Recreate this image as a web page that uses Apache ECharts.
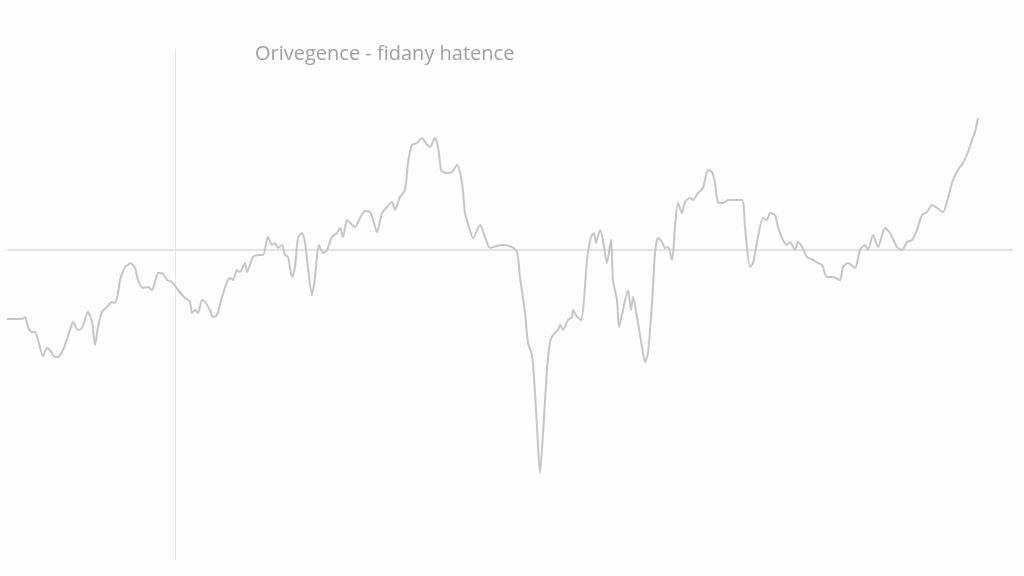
<!DOCTYPE html>
<html>
<head>
<meta charset="utf-8">
<script src="https://cdn.jsdelivr.net/npm/echarts@6/dist/echarts.min.js"></script>
<style>
html,body{margin:0;padding:0;background:#fdfdfd;}
#chart{width:1024px;height:576px;}
</style>
</head>
<body>
<div id="chart"></div>
<script>
var titleText = "Orivegence - fidany hatence";

var steps = [
-168,-153,-150,-147,-143,-140,-137,-132,-128,-125,
-120,-117,-112,-105,-102,-97,-93,-87,-83,-80,
-77,-73,-68,-63,-60,-57,-55,-50,-47,-45,
-40,-37,-32,-27,-23,-20,-17,-13,-8,-3,
3,10,15,17,20,23,27,30,35,38,
42,47,52,55,58,62,65,70,72,78,
83,88,93,97,100,103,107,110,113,117,
120,123,127,130,133,137,140,144,148,152,
157,162,165,168,172,175,180,185,190,195,
198,202,207,212,217,220,225,230,233,237,
242,247,250,255,260,263,266,268,272,277,
282,287,290,294,298,305,310,315,322,328,
337,342,345,350,353,357,360,362,365,368,
372,375,378,383,385,388,393,397,398,402,
406,409,412,416,419,421,425,428,432,436,
438,442,444,448,453,456,458,462,467,470,
473,477,480,483,487,490,493,497,500,503,
507,510,515,518,523,528,533,537,540,543,
548,553,558,567,570,575,578,583,588,592,
595,600,603,608,612,615,620,623,627,632,
638,643,647,652,658,665,668,673,680,685,
690,693,698,703,710,715,722,727,732,737,
742,747,752,757,762,768,773,778,783,788,
793,797,800,803
];

var divergence = [
-6.9,-6.9,-6.7,-7.7,-8.2,-8.2,-9.0,-10.6,-9.8,-10.0,
-10.7,-10.7,-10.0,-8.0,-7.2,-8.0,-7.8,-6.2,-7.2,-9.5,
-7.7,-6.2,-5.7,-5.2,-5.3,-4.3,-3.0,-1.7,-1.5,-1.3,
-1.8,-3.0,-3.8,-3.7,-4.0,-3.2,-2.3,-2.3,-3.0,-3.2,
-4.0,-4.8,-5.2,-6.3,-6.0,-6.3,-5.0,-5.2,-6.0,-6.7,
-6.5,-4.7,-3.2,-2.8,-3.0,-2.0,-2.2,-1.3,-2.2,-0.7,
-0.5,-0.5,1.3,0.5,0.7,0.2,0.5,-0.5,-0.7,-2.7,
-1.7,1.2,1.7,0.7,-1.7,-4.5,-2.7,0.5,-0.3,0.0,
1.3,1.7,2.2,1.3,3.0,2.7,2.3,3.2,3.9,3.8,
3.0,1.8,3.7,4.3,4.8,4.0,5.3,6.0,8.7,10.5,
10.7,11.2,10.8,10.3,11.2,10.3,8.0,7.8,7.7,7.8,
8.5,6.7,3.7,2.3,1.2,2.5,1.3,0.2,0.4,0.5,
0.3,-0.2,-2.7,-6.3,-9.3,-10.5,-14.3,-17.7,-22.3,-18.3,
-12.0,-9.2,-8.5,-8.0,-7.5,-8.0,-7.0,-6.7,-6.0,-6.7,
-7.0,-5.0,-1.0,1.3,1.7,0.7,2.0,1.0,-1.3,1.0,
-3.0,-5.0,-7.7,-6.0,-4.0,-6.0,-4.7,-6.7,-9.7,-11.2,
-10.3,-5.3,-0.3,1.2,0.8,0.2,0.3,-1.0,2.3,4.7,
3.7,4.8,5.2,5.0,5.7,6.2,8.0,7.8,6.7,4.8,
4.7,5.0,5.0,5.0,2.3,-1.7,-1.3,1.3,3.2,3.0,
3.7,3.5,2.3,1.0,0.5,0.8,0.0,0.8,0.3,-0.7,
-1.0,-1.3,-1.5,-2.7,-2.7,-3.0,-1.7,-1.3,-1.8,0.0,
0.5,0.0,1.5,0.3,2.2,1.7,0.3,0.0,0.8,1.0,
2.0,3.5,3.8,4.5,4.2,3.8,5.2,7.0,8.0,8.7,
9.8,11.0,11.8,13.2
];

var seriesData = steps.map(function (s, i) { return [s, divergence[i]]; });

var chart = echarts.init(document.getElementById('chart'), null, {renderer: 'canvas'});
chart.setOption({
  backgroundColor: '#fdfdfd',
  animation: false,
  title: {
    text: titleText,
    left: 250,
    top: 39,
    textStyle: {
      fontFamily: 'Open Sans',
      fontSize: 20,
      fontWeight: 'normal',
      color: '#a0a0a0'
    }
  },
  grid: {left: 8, right: 12, top: 50, bottom: 16, containLabel: false},
  xAxis: {
    type: 'value',
    min: -167,
    max: 837,
    axisLine: {show: true, onZero: true, lineStyle: {color: '#e3e3e3', width: 2}},
    axisTick: {show: false},
    axisLabel: {show: false},
    splitLine: {show: false}
  },
  yAxis: {
    type: 'value',
    min: -31,
    max: 20,
    axisLine: {show: true, onZero: true, lineStyle: {color: '#e6e6e6', width: 1}},
    axisTick: {show: false},
    axisLabel: {show: false},
    splitLine: {show: false}
  },
  series: [{
    type: 'line',
    data: seriesData,
    showSymbol: false,
    smooth: 0.25,
    lineStyle: {color: '#c6c6c6', width: 2},
    z: 3
  }]
});
</script>
</body>
</html>
